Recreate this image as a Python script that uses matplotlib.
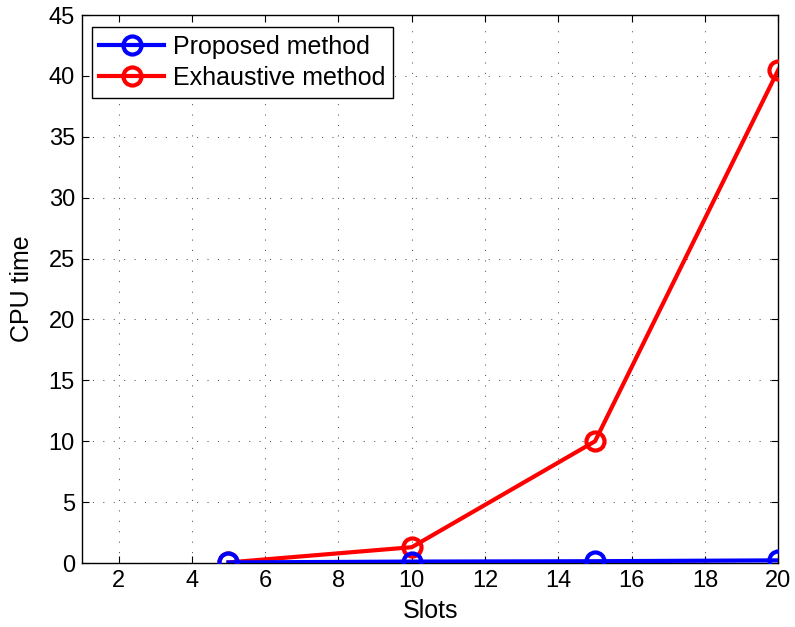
import matplotlib
matplotlib.use("Agg")
import matplotlib.pyplot as plt

slots = [5, 10, 15, 20]
proposed = [0.05, 0.12, 0.15, 0.22]
exhaustive = [0.05, 1.3, 10.0, 40.5]

plt.rcParams["font.family"] = ["Liberation Sans", "DejaVu Sans"]

fig = plt.figure(figsize=(7.95, 6.27), dpi=100)
ax = fig.add_axes([0.103, 0.102, 0.876, 0.874])

ax.plot(slots, exhaustive, color="#ff0000", linewidth=3, marker="o", markersize=13,
        markerfacecolor="none", markeredgewidth=3, label="Exhaustive method", zorder=3)
ax.plot(slots, proposed, color="#0000ff", linewidth=3, marker="o", markersize=13,
        markerfacecolor="none", markeredgewidth=3, label="Proposed method", zorder=4)

ax.set_xlim(1, 20)
ax.set_ylim(0, 45)
ax.set_xticks(range(2, 21, 2))
ax.set_yticks(range(0, 46, 5))
ax.grid(True, color="#555555", linestyle=(0, (1, 9)), linewidth=0.75)
ax.tick_params(direction="in", labelsize=17, length=5, top=True, right=True, pad=5)
for s in ax.spines.values():
    s.set_linewidth(1.0)

ax.set_xlabel("Slots", fontsize=18, va="center")
ax.set_ylabel("CPU time", fontsize=18, va="center")
ax.xaxis.set_label_coords(0.5, -0.088)
ax.yaxis.set_label_coords(-0.086, 0.5)

handles, labels = ax.get_legend_handles_labels()
leg = ax.legend(handles[::-1], labels[::-1], loc="upper left", fontsize=18,
                fancybox=False, edgecolor="black", framealpha=1,
                borderpad=0.3, labelspacing=0.3, handlelength=2.6,
                handletextpad=0.35, borderaxespad=0,
                bbox_to_anchor=(0.0144, 0.978))
leg.get_frame().set_linewidth(1.0)

fig.savefig("out.png", dpi=100)
